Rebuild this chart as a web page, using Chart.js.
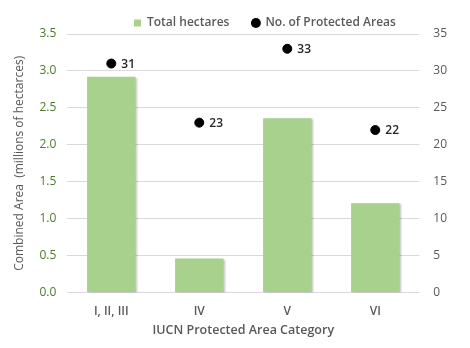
<!DOCTYPE html>
<html>
<head>
<meta charset="utf-8">
<script src="https://cdn.jsdelivr.net/npm/chart.js@4/dist/chart.umd.min.js"></script>
<style>
  html, body { margin: 0; padding: 0; background: #fff; }
  #wrap { width: 470px; height: 348px; }
</style>
</head>
<body>
<div id="wrap"><canvas id="areaChart"></canvas></div>
<script>
var categories = ['I, II, III', 'IV', 'V', 'VI'];
var totalHectares = [2.92, 0.46, 2.36, 1.21];
var protectedAreas = [31, 23, 33, 22];
var leftTicks = [0, 0.5, 1, 1.5, 2, 2.5, 3, 3.5];
var rightTicks = [0, 5, 10, 15, 20, 25, 30, 35];

var FONT = "'Open Sans', 'Liberation Sans', sans-serif";

// draws the count next to each dot
var pointLabels = {
    id: 'pointLabels',
    afterDatasetsDraw: function (chart) {
        var ctx = chart.ctx;
        var meta = chart.getDatasetMeta(1);
        ctx.save();
        ctx.font = '600 12px ' + FONT;
        ctx.fillStyle = '#262626';
        ctx.textBaseline = 'middle';
        meta.data.forEach(function (pt, i) {
            ctx.fillText(String(protectedAreas[i]), pt.x + 10, pt.y + 1);
        });
        ctx.restore();
    }
};

// soft shadow on the right side of the bars
var barShadow = {
    id: 'barShadow',
    beforeDatasetDraw: function (chart, args) {
        if (args.index !== 0) return;
        var ctx = chart.ctx;
        ctx.save();
        ctx.shadowColor = 'rgba(0,0,0,0.25)';
        ctx.shadowOffsetX = 2;
        ctx.shadowOffsetY = 1;
        ctx.shadowBlur = 2;
    },
    afterDatasetDraw: function (chart, args) {
        if (args.index !== 0) return;
        chart.ctx.restore();
    }
};

// legend sits right of centre with a wider gap between the two entries
var legendNudge = {
    id: 'legendNudge',
    afterLayout: function (chart) {
        var lg = chart.legend;
        lg.options.labels.padding = 23;
        lg.top -= 6;
        lg.left = 111;
        lg.right = chart.width;
    }
};

var ctx = document.getElementById('areaChart').getContext('2d');
var chart = new Chart(ctx, {
    data: {
        labels: categories,
        datasets: [{
            type: 'bar',
            label: 'Total hectares',
            data: totalHectares,
            backgroundColor: '#a9d18e',
            yAxisID: 'y',
            barPercentage: 0.55,
            categoryPercentage: 1.0,
            order: 2
        }, {
            type: 'line',
            label: 'No. of Protected Areas',
            data: protectedAreas,
            showLine: false,
            pointRadius: 4.5,
            pointBackgroundColor: '#000',
            pointBorderColor: '#000',
            yAxisID: 'y1',
            order: 1
        }]
    },
    options: {
        responsive: true,
        maintainAspectRatio: false,
        animation: false,
        layout: { padding: { left: 8, right: 9, top: 0, bottom: 6 } },
        plugins: {
            tooltip: { enabled: false },
            legend: {
                position: 'top',
                align: 'start',
                labels: {
                    font: { family: FONT, size: 12, weight: '600' },
                    color: '#595959',
                    boxWidth: 7,
                    boxHeight: 7,
                    padding: 12,
                    usePointStyle: true,
                    generateLabels: function (chart) {
                        return [{
                            text: 'Total hectares',
                            fillStyle: '#a9d18e',
                            strokeStyle: '#a9d18e',
                            lineWidth: 0,
                            pointStyle: 'rect',
                            fontColor: '#595959',
                            datasetIndex: 0
                        }, {
                            text: 'No. of Protected Areas',
                            fillStyle: '#000',
                            strokeStyle: '#000',
                            lineWidth: 0,
                            pointStyle: 'circle',
                            fontColor: '#595959',
                            datasetIndex: 1
                        }];
                    }
                }
            }
        },
        scales: {
            x: {
                grid: { display: false },
                border: { display: false },
                ticks: { font: { family: FONT, size: 12, weight: '600' }, color: '#595959', padding: 4 },
                title: {
                    display: true,
                    text: 'IUCN Protected Area Category',
                    font: { family: FONT, size: 12.5, weight: '600' },
                    color: '#595959',
                    padding: { top: 0 }
                }
            },
            y: {
                position: 'left',
                min: 0,
                max: 3.5,
                afterBuildTicks: function (axis) {
                    axis.ticks = leftTicks.map(function (v) { return { value: v }; });
                },
                ticks: {
                    font: { family: FONT, size: 12 },
                    color: '#4e7a2a',
                    padding: 11,
                    callback: function (v) { return v.toFixed(1); }
                },
                grid: { color: '#d9d9d9', drawTicks: false },
                border: { display: false },
                title: {
                    display: true,
                    text: 'Combined Area  (millions of hectarces)',
                    font: { family: FONT, size: 12 },
                    color: '#595959',
                    padding: { bottom: 2 }
                }
            },
            y1: {
                position: 'right',
                min: 0,
                max: 35,
                afterBuildTicks: function (axis) {
                    axis.ticks = rightTicks.map(function (v) { return { value: v }; });
                },
                ticks: {
                    font: { family: FONT, size: 12 },
                    color: '#595959',
                    padding: 14
                },
                grid: { display: false, drawTicks: false },
                border: { display: false }
            }
        }
    },
    plugins: [barShadow, pointLabels, legendNudge]
});
</script>
</body>
</html>
